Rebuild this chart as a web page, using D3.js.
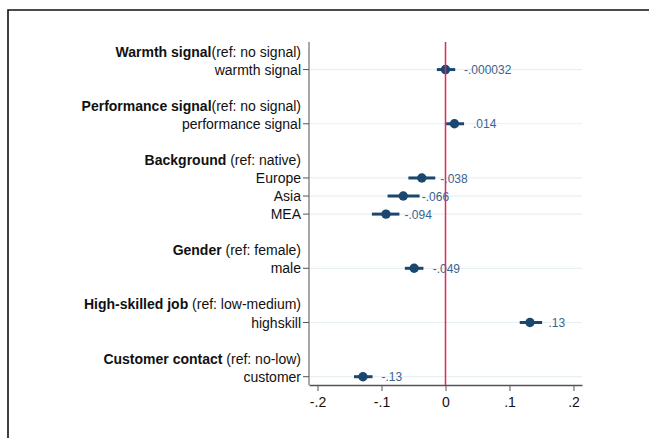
<!DOCTYPE html>
<html><head><meta charset="utf-8">
<script src="https://cdn.jsdelivr.net/npm/d3@7"></script>
<style>body{margin:0;background:#fff}svg{display:block}</style>
</head><body>
<script>
// rows: headers and items in display order
const headerBold = ["Warmth signal","Performance signal","Background","Gender","High-skilled job","Customer contact"];
const headerRef = ["(ref: no signal)","(ref: no signal)"," (ref: native)"," (ref: female)"," (ref: low-medium)"," (ref: no-low)"];
const headerRow = [0,3,6,11,14,17];
const items = ["warmth signal","performance signal","Europe","Asia","MEA","male","highskill","customer"];
const itemRow = [1,4,7,8,9,12,15,18];
const estimates = [-0.000032,0.014,-0.037,-0.066,-0.093,-0.049,0.132,-0.129];
const ciLow = [-0.0135,0.001,-0.058,-0.0905,-0.115,-0.0635,0.116,-0.143];
const ciHigh = [0.0152,0.029,-0.016,-0.0405,-0.072,-0.0345,0.151,-0.114];
const valueLabels = ["-.000032",".014","-.038","-.066","-.094","-.049",".13","-.13"];
const xTicks = [-0.2,-0.1,0,0.1,0.2];
const xTickLabels = ["-.2","-.1","0",".1",".2"];

(function(){
const W=649,H=438;
const svg=d3.select("body").append("svg").attr("width",W).attr("height",H)
  .style("font-family","'Liberation Sans',Arial,sans-serif");
svg.append("rect").attr("width",W).attr("height",H).attr("fill","#fff");
// outer frame (cut off right/bottom)
svg.append("path").attr("d",`M8,${H+2}V10H${W+2}`).attr("fill","none").attr("stroke","#111").attr("stroke-width",1.6);

const x=d3.scaleLinear().domain([-0.2133,0.2133]).range([309,582]);
const y=d3.scaleLinear().domain([0,18]).range([51.5,376.7]);
const plotTop=42,plotBottom=385;

// gridlines
svg.append("g").selectAll("line").data(itemRow).join("line")
  .attr("x1",309).attr("x2",582).attr("y1",d=>y(d)).attr("y2",d=>y(d))
  .attr("stroke","#e8f0f2").attr("stroke-width",1.2);

// y axis
svg.append("line").attr("x1",309).attr("x2",309).attr("y1",plotTop).attr("y2",plotBottom).attr("stroke","#8a8a8a").attr("stroke-width",1.5);
svg.append("g").selectAll("line").data(itemRow).join("line")
  .attr("x1",303).attr("x2",309).attr("y1",d=>y(d)).attr("y2",d=>y(d)).attr("stroke","#555").attr("stroke-width",1);
svg.append("g").selectAll("text").data(items).join("text")
  .attr("x",301).attr("y",(d,i)=>y(itemRow[i])).attr("dy","0.36em").attr("text-anchor","end")
  .attr("font-size",14).attr("fill","#111").text(d=>d);
const ht=svg.append("g").selectAll("text").data(headerBold).join("text")
  .attr("x",301).attr("y",(d,i)=>y(headerRow[i])).attr("dy","0.36em").attr("text-anchor","end")
  .attr("font-size",14).attr("fill","#111").style("white-space","pre");
ht.append("tspan").attr("font-weight","bold").text(d=>d);
ht.append("tspan").text((d,i)=>headerRef[i]);

// x axis
const xa=svg.append("g").attr("transform",`translate(0,${plotBottom})`)
  .call(d3.axisBottom(x).tickValues(xTicks).tickFormat((d,i)=>xTickLabels[i]).tickSize(6).tickSizeOuter(0));
xa.select(".domain").attr("stroke","#555").attr("stroke-width",1.3);
xa.selectAll(".tick line").attr("stroke","#555");
xa.selectAll(".tick text").attr("font-size",14).attr("fill","#111").attr("dy","0.95em")
  .style("font-family","'Liberation Sans',Arial,sans-serif");

// CIs and points
const navy="#1a476f";
svg.append("g").selectAll("line").data(estimates).join("line")
  .attr("x1",(d,i)=>x(ciLow[i])).attr("x2",(d,i)=>x(ciHigh[i]))
  .attr("y1",(d,i)=>y(itemRow[i])).attr("y2",(d,i)=>y(itemRow[i]))
  .attr("stroke",navy).attr("stroke-width",3);
svg.append("g").selectAll("circle").data(estimates).join("circle")
  .attr("cx",d=>x(d)).attr("cy",(d,i)=>y(itemRow[i])).attr("r",4.7).attr("fill",navy);
svg.append("g").selectAll("text").data(valueLabels).join("text")
  .attr("x",(d,i)=>x(estimates[i])+18.5).attr("y",(d,i)=>y(itemRow[i])).attr("dy","0.38em")
  .attr("font-size",12).attr("fill","#3a6390").text(d=>d);

// zero line
svg.append("line").attr("x1",x(0)).attr("x2",x(0)).attr("y1",plotTop).attr("y2",plotBottom)
  .attr("stroke","#e8245a").attr("stroke-width",1.5);
})();
</script>
</body></html>
